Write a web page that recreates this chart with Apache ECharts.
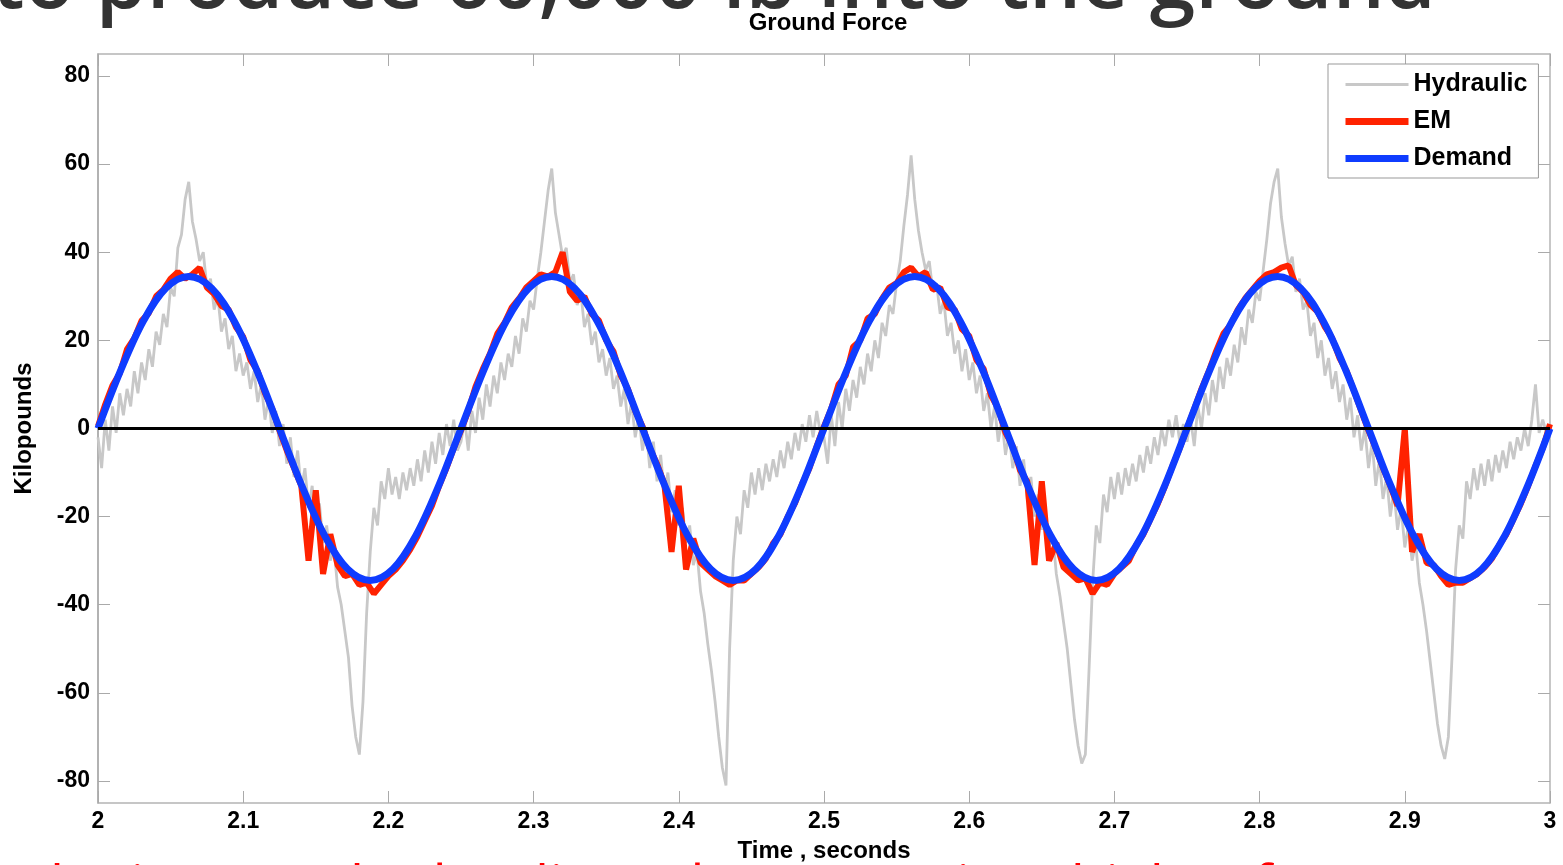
<!DOCTYPE html>
<html>
<head>
<meta charset="utf-8">
<title>Ground Force</title>
<script src="https://cdn.jsdelivr.net/npm/echarts@6/dist/echarts.min.js"></script>
<style>
  html, body { margin: 0; padding: 0; background: #fff; }
  #chart { width: 1563px; height: 865px; }
</style>
</head>
<body>
<div id="chart"></div>
<script>
// time axis (seconds) and sampling steps
var timeStart = 2;
var hydStep = 0.0025;
var emStep = 0.005;
var demandStep = 1 / 64;
var yTicks = [-80, -60, -40, -20, 0, 20, 40, 60, 80];

// Hydraulic (kilopounds), read every 2.5 ms, one row per 0.25 s cycle
var hydraulic = [
  -2, -9, 2, -5, 5, -1, 8, 3, 9, 5, 13, 8, 15, 11, 18, 14, 22, 19, 26, 23, 32, 30, 41, 44, 52, 56, 47, 43, 38, 40, 32, 34, 27, 30, 22, 25, 18, 21, 13, 17, 12, 15, 9, 13, 6, 10, 2, 7, -1, 4, -4, 1, -8, -2, -11, -5, -14, -9, -18, -13, -22, -17, -26, -22, -30, -27, -36, -40, -46, -52, -63, -70, -74, -62, -42, -28, -18, -22, -12, -16, -9, -15, -11, -16, -10, -14, -9, -13, -7, -12, -5, -10, -3, -8, -1, -6, 1, -4, 2, -5,
  -3, 2, -5, 4, -1, 7, 2, 10, 5, 12, 8, 15, 11, 17, 14, 21, 17, 25, 22, 29, 27, 34, 40, 47, 54, 59, 49, 44, 39, 41, 33, 35, 28, 31, 23, 26, 19, 22, 15, 18, 12, 16, 9, 12, 5, 9, 1, 6, -2, 3, -5, 0, -9, -3, -12, -6, -15, -10, -19, -14, -22, -18, -26, -22, -31, -28, -37, -42, -49, -55, -62, -70, -77, -81, -50, -30, -20, -24, -14, -18, -10, -15, -9, -14, -8, -12, -7, -11, -5, -9, -3, -7, -1, -5, 1, -3, 3, -2, 4, -1,
  -2, -8, 3, -4, 6, 0, 9, 4, 11, 7, 14, 10, 17, 13, 20, 16, 24, 21, 28, 26, 33, 38, 46, 53, 62, 52, 45, 40, 36, 38, 31, 33, 26, 29, 21, 24, 17, 20, 13, 18, 11, 15, 8, 12, 4, 8, 0, 5, -3, 2, -6, -1, -9, -4, -13, -7, -16, -11, -20, -15, -23, -19, -27, -24, -33, -38, -44, -50, -58, -66, -72, -76, -74, -55, -35, -22, -26, -15, -19, -11, -16, -10, -15, -9, -13, -8, -12, -6, -10, -4, -8, -2, -6, 0, -4, 2, -2, 3, -3, 1,
  -3, 2, -4, 5, 0, 8, 3, 11, 6, 14, 9, 16, 12, 19, 15, 23, 19, 27, 24, 31, 29, 36, 43, 51, 56, 59, 48, 42, 37, 39, 31, 34, 27, 29, 21, 24, 16, 20, 12, 16, 9, 13, 6, 10, 2, 7, -2, 3, -5, 0, -9, -3, -13, -7, -16, -11, -20, -14, -23, -18, -27, -22, -30, -26, -35, -40, -46, -53, -60, -67, -72, -75, -70, -52, -32, -22, -25, -12, -16, -9, -14, -8, -13, -7, -12, -6, -10, -5, -9, -3, -7, -2, -5, 0, -4, 2, 10, -1, 2, -1,
  1
];

// EM (kilopounds), read every 5 ms
var em = [
  0.5, 5.5, 9.8, 12.5, 18.0, 20.5, 24.5, 26.2, 30.0, 31.5, 34.0, 35.5, 34.0, 35.0, 36.5, 32.0, 30.5, 27.8, 27.0, 23.0, 20.8, 15.5, 13.0, 8.0, 4.5, -0.5, -5.0, -9.0, -13.0, -30.0, -14.0, -33.0, -24.0, -31.0, -33.5, -33.0, -35.5, -35.0, -37.5, -35.5, -33.5, -32.0, -30.0, -27.5, -24.5, -21.0, -17.5, -13.0, -9.0, -4.5,
  -0.5, 4.0, 9.5, 13.5, 17.0, 21.5, 24.0, 27.5, 29.5, 32.0, 33.5, 35.0, 34.5, 35.5, 40.0, 31.0, 29.0, 30.0, 26.0, 24.5, 20.0, 17.5, 12.0, 9.0, 4.0, 0.5, -4.5, -8.0, -12.5, -28.0, -13.0, -32.0, -25.0, -30.5, -32.0, -33.5, -34.5, -35.5, -34.5, -34.5, -33.0, -31.5, -29.5, -26.0, -24.0, -20.0, -17.0, -12.5, -9.0, -4.0,
  0.5, 4.5, 10.0, 12.0, 18.5, 20.0, 25.0, 26.0, 29.5, 32.0, 33.0, 35.5, 36.5, 34.5, 35.5, 31.5, 32.0, 27.5, 27.0, 22.5, 21.0, 15.5, 13.5, 7.5, 4.5, -1.0, -4.0, -9.5, -12.0, -31.0, -12.0, -30.0, -26.0, -31.5, -33.0, -34.5, -34.0, -37.5, -35.0, -35.5, -33.0, -31.5, -30.0, -26.5, -24.0, -20.5, -17.0, -13.0, -8.5, -4.5,
  0.0, 4.5, 9.0, 13.0, 17.5, 21.5, 23.5, 27.0, 29.5, 31.5, 33.5, 35.0, 35.5, 36.5, 37.0, 32.5, 31.0, 28.0, 26.5, 23.0, 20.5, 16.0, 13.0, 8.5, 4.0, -0.5, -4.5, -9.0, -13.0, -17.5, 0.0, -28.0, -24.0, -30.5, -31.0, -33.5, -35.5, -35.0, -35.0, -34.0, -33.0, -31.5, -29.5, -26.5, -24.0, -20.5, -17.0, -13.0, -8.5, -4.5,
  1.0
];

// Demand (kilopounds), read every 1/64 s
var demand = [
  0, 13.2, 24.4, 31.9, 34.5, 31.9, 24.4, 13.2, 0, -13.2, -24.4, -31.9, -34.5, -31.9, -24.4, -13.2,
  0, 13.2, 24.4, 31.9, 34.5, 31.9, 24.4, 13.2, 0, -13.2, -24.4, -31.9, -34.5, -31.9, -24.4, -13.2,
  0, 13.2, 24.4, 31.9, 34.5, 31.9, 24.4, 13.2, 0, -13.2, -24.4, -31.9, -34.5, -31.9, -24.4, -13.2,
  0, 13.2, 24.4, 31.9, 34.5, 31.9, 24.4, 13.2, 0, -13.2, -24.4, -31.9, -34.5, -31.9, -24.4, -13.2,
  0
];

function toPairs(values, step) {
  return values.map(function (v, i) {
    return [+(timeStart + i * step).toFixed(5), v];
  });
}

var boldFont = 'Liberation Sans, Arial, sans-serif';
var boxColor = '#b4b4b4';
var hydColor = '#c8c8c8';
var emColor = '#ff2200';
var demandColor = '#0f3cff';

var chart = echarts.init(document.getElementById('chart'));
chart.setOption({
  animation: false,
  backgroundColor: '#fff',
  title: {
    text: 'Ground Force',
    left: 823,
    top: 6,
    textAlign: 'center',
    textStyle: { fontFamily: boldFont, fontWeight: 'bold', fontSize: 24, color: '#000' }
  },
  legend: {
    orient: 'vertical',
    left: 1328,
    top: 64,
    padding: [8, 11, 7, 14],
    itemWidth: 63,
    itemHeight: 24,
    itemGap: 12,
    backgroundColor: '#fff',
    borderColor: '#999',
    borderWidth: 1,
    itemStyle: { opacity: 0 },
    textStyle: { fontFamily: boldFont, fontWeight: 'bold', fontSize: 25, color: '#000', lineHeight: 24 },
    data: [
      { name: 'Hydraulic', lineStyle: { width: 3, color: hydColor } },
      { name: 'EM', lineStyle: { width: 7, color: emColor } },
      { name: 'Demand', lineStyle: { width: 7, color: demandColor } }
    ]
  },
  grid: { left: 98, right: 13, top: 54, bottom: 62, outerBoundsMode: 'none' },
  xAxis: [{
    type: 'value',
    min: 2, max: 3, interval: 0.1,
    name: 'Time , seconds',
    nameLocation: 'middle',
    nameGap: 36,
    nameTextStyle: { fontFamily: boldFont, fontWeight: 'bold', fontSize: 24, color: '#000' },
    axisLine: { onZero: false, lineStyle: { color: boxColor, width: 1.5 } },
    axisTick: { inside: true, length: 12, lineStyle: { color: '#aaa' } },
    axisLabel: {
      margin: 7,
      fontFamily: boldFont, fontWeight: 'bold', fontSize: 23, color: '#000',
      formatter: function (v) { return String(Math.round(v * 10) / 10); }
    },
    splitLine: { show: false }
  }, {
    type: 'value',
    position: 'top',
    min: 2, max: 3, interval: 0.1,
    axisLine: { onZero: false, lineStyle: { color: boxColor, width: 1.5 } },
    axisTick: { inside: true, length: 12, lineStyle: { color: '#aaa' } },
    axisLabel: { show: false },
    splitLine: { show: false }
  }],
  yAxis: [{
    type: 'value',
    min: -85, max: 85,
    name: 'Kilopounds',
    nameLocation: 'middle',
    nameGap: 62,
    nameRotate: 90,
    nameTextStyle: { fontFamily: boldFont, fontWeight: 'bold', fontSize: 24, color: '#000' },
    axisLine: { onZero: false, lineStyle: { color: '#999', width: 1.5 } },
    axisTick: { inside: true, length: 12, customValues: yTicks, lineStyle: { color: '#aaa' } },
    axisLabel: {
      margin: 8,
      customValues: yTicks,
      fontFamily: boldFont, fontWeight: 'bold', fontSize: 23, color: '#000'
    },
    splitLine: { show: false }
  }, {
    type: 'value',
    position: 'right',
    min: -85, max: 85,
    axisLine: { onZero: false, show: true, lineStyle: { color: boxColor, width: 1.5 } },
    axisTick: { show: true, inside: true, length: 12, customValues: yTicks, lineStyle: { color: '#aaa' } },
    axisLabel: { show: false },
    splitLine: { show: false }
  }],
  graphic: [{
    type: 'text',
    x: -8,
    y: -15,
    silent: true,
    style: {
      text: 'to produce 60,000 lb into the ground',
      fontFamily: '"Open Sans", sans-serif',
      fontWeight: 600,
      fontSize: 82,
      fill: '#333',
      verticalAlign: 'middle'
    }
  }, {
    type: 'text',
    x: 30,
    y: 890,
    silent: true,
    style: {
      text: 'the input to hydraulic and EM, EM gives higher force',
      fontFamily: '"Open Sans", sans-serif',
      fontSize: 56,
      fill: '#ff0000',
      verticalAlign: 'middle'
    }
  }],
  series: [{
    name: 'Hydraulic',
    type: 'line',
    z: 2,
    symbol: 'none',
    color: hydColor,
    lineStyle: { color: hydColor, width: 2.8 },
    data: toPairs(hydraulic, hydStep),
    markLine: {
      silent: true,
      symbol: 'none',
      label: { show: false },
      lineStyle: { color: '#000', width: 3, type: 'solid' },
      data: [{ yAxis: 0 }]
    }
  }, {
    name: 'EM',
    type: 'line',
    z: 3,
    symbol: 'none',
    color: emColor,
    lineStyle: { color: emColor, width: 6 },
    data: toPairs(em, emStep)
  }, {
    name: 'Demand',
    type: 'line',
    z: 4,
    symbol: 'none',
    smooth: 0.35,
    color: demandColor,
    lineStyle: { color: demandColor, width: 7 },
    data: toPairs(demand, demandStep)
  }]
});
</script>
</body>
</html>
